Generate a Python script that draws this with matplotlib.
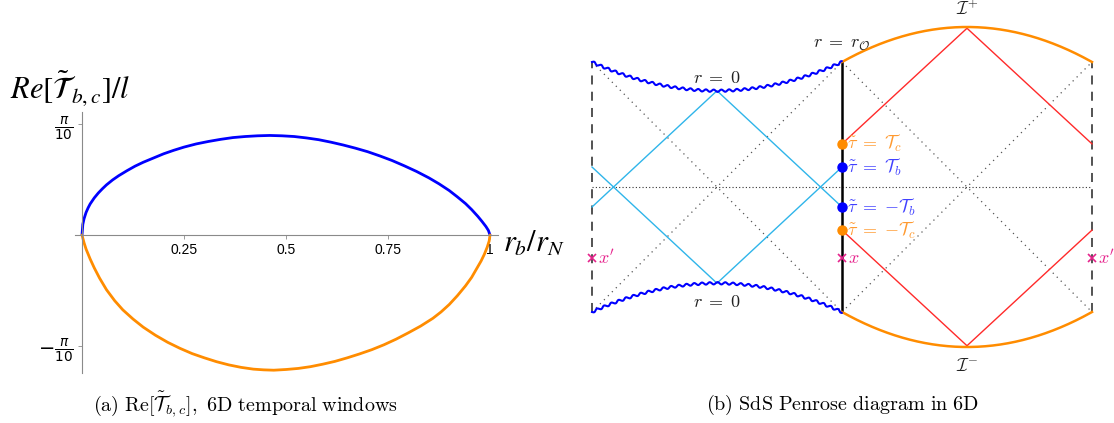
import numpy as np
import matplotlib
matplotlib.use("Agg")
import matplotlib.pyplot as plt

W, H = 1114, 423

# ---------------- data: left panel ----------------
rb = [0.0, 0.002, 0.005, 0.01, 0.015, 0.02, 0.03, 0.04, 0.05, 0.06, 0.075, 0.09, 0.11, 0.13,
      0.15, 0.175, 0.2, 0.225, 0.25, 0.28, 0.31, 0.34, 0.37, 0.40, 0.43, 0.46, 0.49, 0.52,
      0.55, 0.58, 0.61, 0.64, 0.67, 0.70, 0.73, 0.76, 0.79, 0.82, 0.85, 0.875, 0.9, 0.92,
      0.94, 0.955, 0.97, 0.98, 0.99, 0.996, 1.0]
tau_b = [0.0, 0.03, 0.046, 0.064, 0.077, 0.088, 0.105, 0.119, 0.131, 0.142, 0.156, 0.168,
         0.182, 0.195, 0.206, 0.218, 0.23, 0.24, 0.249, 0.258, 0.265, 0.271, 0.276, 0.279,
         0.281, 0.282, 0.281, 0.279, 0.275, 0.270, 0.263, 0.255, 0.246, 0.236, 0.224, 0.211,
         0.196, 0.180, 0.162, 0.145, 0.126, 0.108, 0.089, 0.072, 0.053, 0.039, 0.024, 0.013, 0.0]
rc = [0.0, 0.005, 0.01, 0.02, 0.03, 0.043, 0.06, 0.08, 0.1, 0.125, 0.15, 0.18, 0.21, 0.24,
      0.27, 0.30, 0.33, 0.36, 0.39, 0.42, 0.445, 0.47, 0.50, 0.53, 0.56, 0.59, 0.62, 0.65,
      0.68, 0.71, 0.74, 0.77, 0.80, 0.83, 0.86, 0.88, 0.90, 0.92, 0.94, 0.955, 0.967, 0.978,
      0.986, 0.993, 0.998, 1.0]
tau_c = [0.0, -0.022, -0.04, -0.068, -0.093, -0.122, -0.155, -0.186, -0.212, -0.238, -0.261,
         -0.284, -0.304, -0.321, -0.336, -0.348, -0.359, -0.368, -0.375, -0.380, -0.382,
         -0.383, -0.381, -0.378, -0.373, -0.366, -0.358, -0.348, -0.337, -0.325, -0.311,
         -0.295, -0.277, -0.258, -0.236, -0.218, -0.197, -0.172, -0.144, -0.120, -0.096,
         -0.074, -0.055, -0.035, -0.017, 0.0]
xtick_vals = [0.25, 0.5, 0.75, 1.0]
xtick_labels = ["0.25", "0.5", "0.75", "1"]
ytick_vals = [np.pi / 10, -np.pi / 10]
ytick_labels = [r"$\frac{\pi}{10}$", r"$-\frac{\pi}{10}$"]

# ---------------- data: Penrose diagram (u: horizontal, v: vertical) ----------------
edge_u = [-2.0, 2.0]          # dashed boundaries
obs_u = 0.0                   # r = r_O worldline
sing_dip = 0.77               # r = 0 at its middle
scri_peak = 1.28              # I+ / I- apex
tau_b_v = [0.16, -0.16]
tau_c_v = [0.345, -0.345]
cyan_apex = [(-1.0, 0.77), (-1.0, -0.77)]
red_apex = [(1.0, 1.27), (1.0, -1.27)]
x_point = (0.0, -0.57)
xp_points = [(-2.0, -0.57), (2.0, -0.57)]

BLUE = "#0000ff"
ORANGE = "#ff8c00"
CYAN = "#2fb5ea"
RED = "#ff2a2a"
MAGENTA = "#e6238c"

fig = plt.figure(figsize=(W / 100, H / 100), dpi=100)


def box(x0, y0, x1, y1):
    return [x0 / W, 1 - y1 / H, (x1 - x0) / W, (y1 - y0) / H]


# ================= left panel =================
ax = fig.add_axes(box(75, 112, 498, 373))
ax.set_xlim(-7 / 408, 416 / 408)
ax.set_ylim(-138 / 353, 123 / 353)
ax.plot(rb, tau_b, color=BLUE, lw=2.0, solid_capstyle="round", solid_joinstyle="round")
ax.plot(rc, tau_c, color=ORANGE, lw=2.0, solid_capstyle="round", solid_joinstyle="round")
for s in ["top", "right"]:
    ax.spines[s].set_visible(False)
ax.spines["left"].set_position(("data", 0))
ax.spines["bottom"].set_position(("data", 0))
for s in ["left", "bottom"]:
    ax.spines[s].set_color("#8a8a8a")
    ax.spines[s].set_linewidth(0.8)
ax.set_xticks(xtick_vals)
ax.set_xticklabels(xtick_labels, fontsize=10, family="Liberation Sans")
ax.set_yticks(ytick_vals)
ax.set_yticklabels(ytick_labels, fontsize=14)
ax.tick_params(length=3, width=0.6, color="#8a8a8a", pad=3)
ax.patch.set_alpha(0)

fig.text(10 / W, 1 - 88 / H, r"$Re[\tilde{\mathcal{T}}_{\,b,c}]/l$", fontsize=22,
         math_fontfamily="stix", va="center", ha="left")
fig.text(503 / W, 1 - 243 / H, r"$r_b/r_N$", fontsize=22,
         math_fontfamily="stix", va="center", ha="left")

# ================= right panel =================
bx = fig.add_axes(box(572, 0, 1112, 380))
bx.set_xlim(-270 / 125, 270 / 125)
bx.set_ylim(-193 / 125, 187 / 125)
bx.axis("off")

# diagonals and horizontal
for (a, b) in [((-2, 1), (0, -1)), ((-2, -1), (0, 1)), ((0, 1), (2, -1)), ((0, -1), (2, 1))]:
    bx.plot([a[0], b[0]], [a[1], b[1]], color="#555555", lw=0.9, ls=(0, (1, 3.5)))
bx.plot([-2, 2], [0, 0], color="#333333", lw=0.8, ls=(0, (1, 2)))

# dashed edges
for u in edge_u:
    bx.plot([u, u], [-1, 1], color="#444444", lw=1.3, ls=(0, (5, 4)))

# cyan null rays in the black-hole patch
(ua, va), (ub, vb) = cyan_apex
bx.plot([-2, ua, obs_u], [tau_b_v[1], va, tau_b_v[1]], color=CYAN, lw=1.0)
bx.plot([-2, ub, obs_u], [tau_b_v[0], vb, tau_b_v[0]], color=CYAN, lw=1.0)

# red null rays in the cosmological patch
(ra, rva), (rb_, rvb) = red_apex
bx.plot([obs_u, ra, 2], [tau_c_v[0], rva, tau_c_v[0]], color=RED, lw=1.0)
bx.plot([obs_u, rb_, 2], [tau_c_v[1], rvb, tau_c_v[1]], color=RED, lw=1.0)

# observer worldline
bx.plot([obs_u, obs_u], [-1, 1], color="black", lw=1.8)

# future / past infinity
uu = np.linspace(0, 2, 200)
arc = 1 + (scri_peak - 1) * (1 - (uu - 1) ** 2)
bx.plot(uu, arc, color=ORANGE, lw=1.8)
bx.plot(uu, -arc, color=ORANGE, lw=1.8)

# singularities (wavy)
us = np.linspace(-2, 0, 2000)
base = 1 - (1 - sing_dip) * (1 - (us + 1) ** 2)
du = np.gradient(us)
dv = np.gradient(base)
norm = np.hypot(du, dv)
nx, ny = -dv / norm, du / norm
s = np.concatenate([[0], np.cumsum(np.hypot(np.diff(us), np.diff(base)))])
wob = 0.009 * np.sin(2 * np.pi * s / 0.062)
for sign in [1, -1]:
    bx.plot(us + wob * nx, sign * (base + wob * ny), color=BLUE, lw=1.5)

# points
for v in tau_c_v:
    bx.plot(obs_u, v, "o", color=ORANGE, ms=6.5, zorder=5)
for v in tau_b_v:
    bx.plot(obs_u, v, "o", color=BLUE, ms=6.5, zorder=5)

lab_kw = dict(fontsize=13, math_fontfamily="cm", va="center", ha="left")
bx.text(0.04, tau_c_v[0], r"$\tilde{\tau}\;=\;\mathcal{T}_c$", color="#ff9a30", **lab_kw)
bx.text(0.04, tau_b_v[0], r"$\tilde{\tau}\;=\;\mathcal{T}_b$", color="#4040ff", **lab_kw)
bx.text(0.04, tau_b_v[1], r"$\tilde{\tau}\;=\;{-}\mathcal{T}_b$", color="#4040ff", **lab_kw)
bx.text(0.04, tau_c_v[1], r"$\tilde{\tau}\;=\;{-}\mathcal{T}_c$", color="#ff9a30", **lab_kw)

bx.plot(*x_point, marker="x", color=MAGENTA, ms=6, mew=1.2, zorder=6)
bx.text(x_point[0] + 0.05, x_point[1], r"$x$", color=MAGENTA, **lab_kw)
for p in xp_points:
    bx.plot(*p, marker="x", color=MAGENTA, ms=6, mew=1.2, zorder=6)
    bx.text(p[0] + 0.05, p[1], r"$x'$", color=MAGENTA, **lab_kw)

txt_kw = dict(fontsize=13, math_fontfamily="cm", ha="center", va="center", color="#222222")
bx.text(obs_u, 1.14, r"$r\;=\;r_{\mathcal{O}}$", **txt_kw)
bx.text(-1.0, 0.875, r"$r\;=\;0$", **txt_kw)
bx.text(-1.0, -0.92, r"$r\;=\;0$", **txt_kw)
bx.text(1.0, 1.42, r"$\mathcal{I}^{+}$", **txt_kw)
bx.text(1.0, -1.43, r"$\mathcal{I}^{-}$", **txt_kw)

# captions
cap_kw = dict(fontsize=14.5, math_fontfamily="cm", ha="center", va="center")
fig.text(245 / W, 1 - 405 / H,
         r"$\mathrm{(a)\ Re}[\tilde{\mathcal{T}}_{b,c}]\mathrm{,\ 6D\ temporal\ windows}$", **cap_kw)
fig.text(843 / W, 1 - 405 / H, r"$\mathrm{(b)\ SdS\ Penrose\ diagram\ in\ 6D}$", **cap_kw)

fig.savefig("out.png", dpi=100)
